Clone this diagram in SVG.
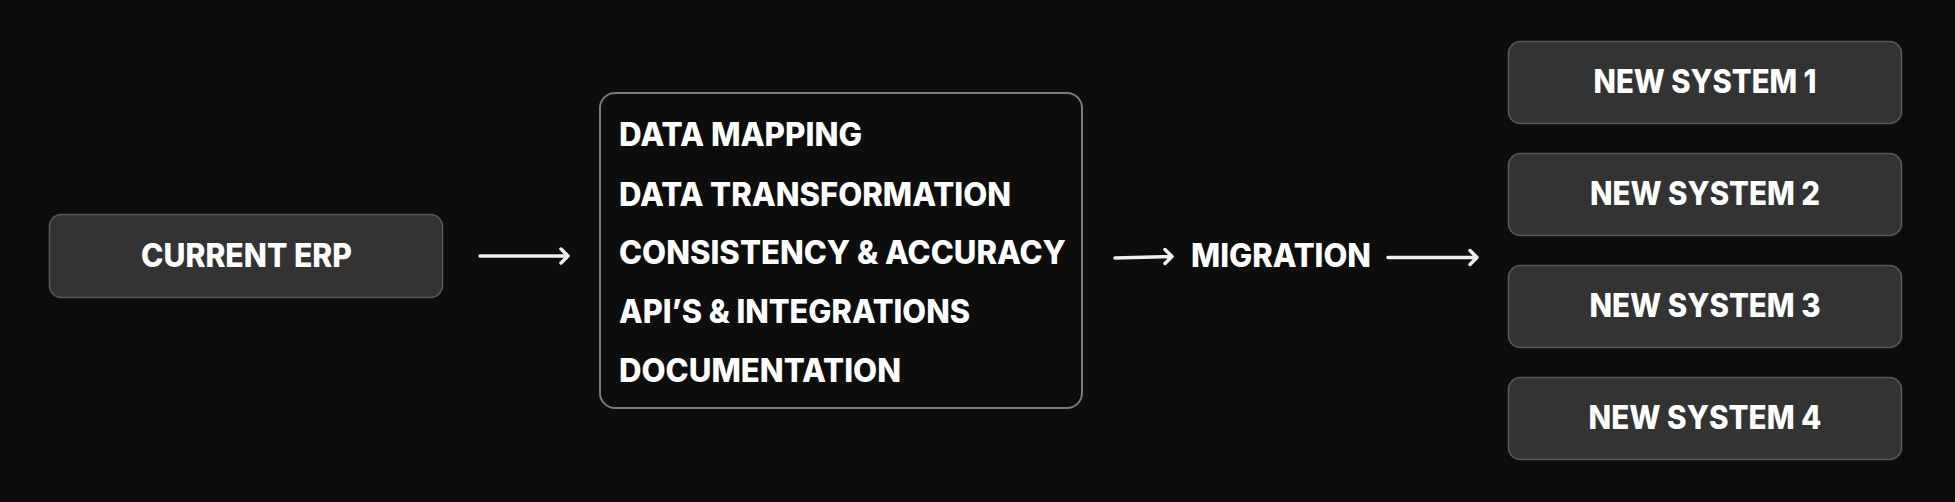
<svg xmlns="http://www.w3.org/2000/svg" width="1955" height="502" viewBox="0 0 1955 502">
<style>
.bg{fill:#0d0d0d}
.box{fill:#333333;stroke:#5a5a5a;stroke-width:1.5}
.list{fill:#0d0d0d;stroke:#7a7a7a;stroke-width:2}
.t{font-family:Inter,"Open Sans","Liberation Sans",sans-serif;font-weight:800;font-size:32px;fill:#ffffff}
.c{text-anchor:middle}
.conn{fill:none;stroke:#f0f0f0;stroke-width:3.5;stroke-linecap:round;stroke-linejoin:round}
</style>
<rect class="bg" x="0" y="0" width="1955" height="502"/>
<g id="current-erp">
<rect class="box" x="49.5" y="214.5" width="393" height="83" rx="12"/>
<text class="t c" x="246.5" y="267" textLength="211" lengthAdjust="spacingAndGlyphs">CURRENT ERP</text>
</g>
<g id="tasks">
<rect class="list" x="600" y="93" width="482" height="315" rx="15"/>
<text class="t" x="619" y="146" textLength="243" lengthAdjust="spacingAndGlyphs">DATA MAPPING</text>
<text class="t" x="619" y="205.5" textLength="392" lengthAdjust="spacingAndGlyphs">DATA TRANSFORMATION</text>
<text class="t" x="619" y="264" textLength="447" lengthAdjust="spacingAndGlyphs">CONSISTENCY &amp; ACCURACY</text>
<text class="t" x="619" y="323" textLength="351" lengthAdjust="spacingAndGlyphs">API’S &amp; INTEGRATIONS</text>
<text class="t" x="619" y="382" textLength="282" lengthAdjust="spacingAndGlyphs">DOCUMENTATION</text>
</g>
<g id="migration">
<text class="t" x="1191" y="267" textLength="180" lengthAdjust="spacingAndGlyphs">MIGRATION</text>
</g>
<g id="new-system-1">
<rect class="box" x="1508.5" y="41.5" width="393" height="82" rx="12"/>
<text class="t c" x="1705" y="93" textLength="223" lengthAdjust="spacingAndGlyphs">NEW SYSTEM 1</text>
</g>
<g id="new-system-2">
<rect class="box" x="1508.5" y="153.5" width="393" height="82" rx="12"/>
<text class="t c" x="1705" y="205" textLength="230" lengthAdjust="spacingAndGlyphs">NEW SYSTEM 2</text>
</g>
<g id="new-system-3">
<rect class="box" x="1508.5" y="265.5" width="393" height="82" rx="12"/>
<text class="t c" x="1705" y="317" textLength="231" lengthAdjust="spacingAndGlyphs">NEW SYSTEM 3</text>
</g>
<g id="new-system-4">
<rect class="box" x="1508.5" y="377.5" width="393" height="82" rx="12"/>
<text class="t c" x="1705" y="429" textLength="233" lengthAdjust="spacingAndGlyphs">NEW SYSTEM 4</text>
</g>
<g id="connectors">
<path class="conn" d="M480 256 L568 256 M561 249 L568 256 L561 263"/>
<path class="conn" d="M1115 258 L1172 256.5 M1165 249.5 L1172 256.5 L1165 263.5"/>
<path class="conn" d="M1388 257.5 L1477 257.5 M1470 250.5 L1477 257.5 L1470 264.5"/>
</g>
</svg>
